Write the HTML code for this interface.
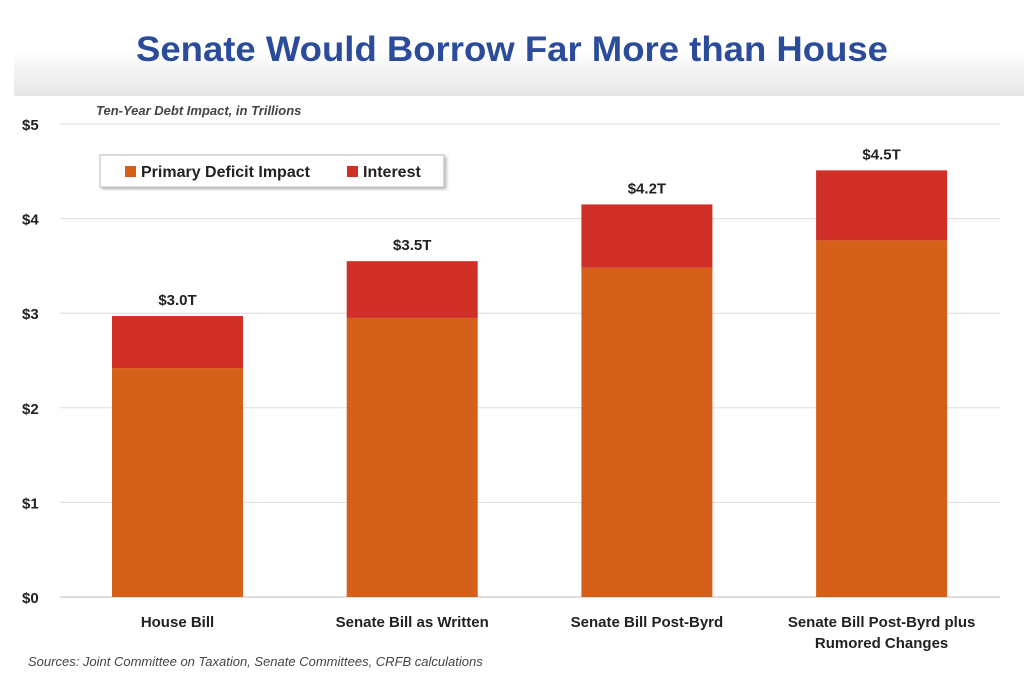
<!DOCTYPE html>
<html><head><meta charset="utf-8"><style>
body{margin:0;width:1024px;height:695px;background:#fff;overflow:hidden;font-family:"Liberation Sans",sans-serif}
</style></head><body>
<svg width="1024" height="695">
<defs><linearGradient id="g" x1="0" y1="0" x2="0" y2="1"><stop offset="0" stop-color="#fff"/><stop offset="1" stop-color="#e6e6e6"/></linearGradient>
<filter id="sh"><feDropShadow dx="2" dy="2" stdDeviation="1.5" flood-color="#888" flood-opacity="0.6"/></filter></defs>
<rect x="14" y="50" width="1010" height="46" fill="url(#g)"/>
<text x="512" y="61" text-anchor="middle" font-size="35" font-weight="bold" fill="#2b4b9b" textLength="752" lengthAdjust="spacingAndGlyphs">Senate Would Borrow Far More than House</text>
<text x="96" y="115" font-size="13" font-style="italic" font-weight="bold" fill="#444">Ten-Year Debt Impact, in Trillions</text>
<g id="grid"></g><g id="bars"></g>
<g filter="url(#sh)"><rect x="100" y="155" width="344" height="32" fill="#fff" stroke="#bbb"/></g>
<rect x="125" y="166" width="11" height="11" fill="#d4601a"/>
<text x="141" y="177" font-size="16" font-weight="bold" fill="#222">Primary Deficit Impact</text>
<rect x="347" y="166" width="11" height="11" fill="#d03028"/>
<text x="363" y="177" font-size="16" font-weight="bold" fill="#222">Interest</text>
<text x="28" y="666" font-size="13" font-style="italic" fill="#444">Sources: Joint Committee on Taxation, Senate Committees, CRFB calculations</text>
</svg>
<script>
const categories=[["House Bill"],["Senate Bill as Written"],["Senate Bill Post-Byrd"],["Senate Bill Post-Byrd plus","Rumored Changes"]];
const primary=[2.42,2.95,3.48,3.77];
const interest=[0.55,0.60,0.67,0.74];
const totalLabels=["$3.0T","$3.5T","$4.2T","$4.5T"];
const yTicks=[0,1,2,3,4,5];
const ns="http://www.w3.org/2000/svg";
const y=v=>597-v*94.6, x=i=>177.5+i*234.7, bw=131;
function el(t,a,p,txt){const e=document.createElementNS(ns,t);for(const k in a)e.setAttribute(k,a[k]);if(txt!=null)e.textContent=txt;document.getElementById(p)?document.getElementById(p).appendChild(e):p.appendChild(e);return e;}
yTicks.forEach(t=>{
 const l=el('line',{x1:60,x2:1000,y1:y(t),y2:y(t),stroke:t?'#ddd':'#bbb','stroke-width':1},'grid');
 
 
 const tx=el('text',{x:22,y:y(t)+6,'font-size':15,'font-weight':'bold',fill:'#222'},'grid','$'+t);
 
 
});
categories.forEach((c,i)=>{
 const cx=x(i);
 const r1=el('rect',{x:cx-bw/2,y:y(primary[i]),width:bw,height:y(0)-y(primary[i]),fill:'#d4601a'},'bars');
 
 
 const tot=primary[i]+interest[i];
 const r2=el('rect',{x:cx-bw/2,y:y(tot),width:bw,height:y(primary[i])-y(tot),fill:'#d03028'},'bars');
 
 
 const lb=el('text',{x:cx,y:y(tot)-11,'text-anchor':'middle','font-size':15,'font-weight':'bold',fill:'#222'},'bars',totalLabels[i]);
 
 
 c.forEach((line,j)=>{
  const t=el('text',{x:cx,y:627+j*21,'text-anchor':'middle','font-size':15,'font-weight':'bold',fill:'#222'},'bars',line);
  
  
 });
});
</script>
</body></html>
